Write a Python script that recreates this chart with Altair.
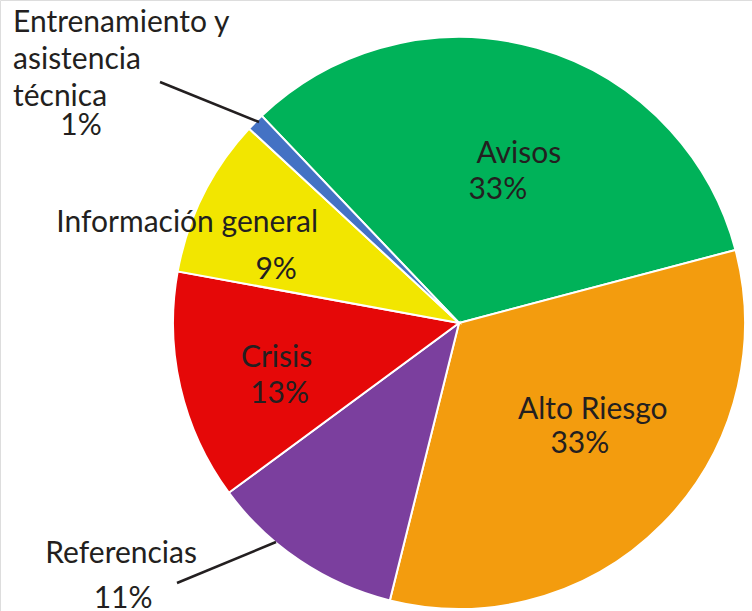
import math
import altair as alt
import pandas as pd

categories = ["Avisos", "Alto Riesgo", "Referencias", "Crisis",
              "Información general", "Entrenamiento y asistencia técnica"]
values = [33, 33, 11, 13, 9, 1]
pct_labels = ["33%", "33%", "11%", "13%", "9%", "1%"]
name_labels = ["Avisos", "Alto Riesgo", "Referencias", "Crisis",
               "Información general", "Entrenamiento y\nasistencia\ntécnica"]
colors = ["#00B259", "#F39C0E", "#7B3F9E", "#E50808", "#F2E600", "#4472C4"]

df = pd.DataFrame({
    "cat": categories,
    "value": values,
    "order": list(range(len(categories))),
    "pct": pct_labels,
    "name": name_labels,
})

CX, CY, R = 459, 323, 286
A0 = math.radians(-43.6)
FONT = "Lato"
FS = 30
TXT = "#231F20"

theta_scale = alt.Scale(domain=[0, 100], range=[A0, A0 + 2 * math.pi])

base = (
    alt.Chart(df)
    .transform_window(cum="sum(value)", sort=[alt.SortField("order")])
    .transform_calculate(start="datum.cum - datum.value",
                         mid="datum.cum - datum.value / 2")
)

arcs = base.mark_arc(outerRadius=R, stroke="white", strokeWidth=2).encode(
    theta=alt.Theta("start:Q", scale=theta_scale),
    theta2="cum:Q",
    color=alt.Color("cat:N", scale=alt.Scale(domain=categories, range=colors), legend=None),
    x=alt.value(CX),
    y=alt.value(CY),
)


def label(cat, field, radius, dx, dy, align="center"):
    return base.transform_filter(alt.datum.cat == cat).mark_text(
        radius=radius, dx=dx, dy=dy, align=align, baseline="alphabetic",
        font=FONT, fontSize=FS, color=TXT, lineBreak="\n", lineHeight=37,
    ).encode(
        theta=alt.Theta("mid:Q", scale=theta_scale),
        text=f"{field}:N",
        x=alt.value(CX),
        y=alt.value(CY),
    )


labels = [
    label("Avisos", "name", 150, 19, -16),
    label("Avisos", "pct", 150, -2, 20),
    label("Alto Riesgo", "name", 150, 27, -9),
    label("Alto Riesgo", "pct", 150, 14, 25),
    label("Crisis", "name", 180, -7, 4),
    label("Crisis", "pct", 180, -4, 40),
    label("Información general", "name", 200, -93, -1),
    label("Información general", "pct", 200, -4, 46),
    label("Referencias", "name", 300, -171, -9),
    label("Referencias", "pct", 300, -169, 36),
    label("Entrenamiento y asistencia técnica", "name", 330, -211, -59, align="left"),
    label("Entrenamiento y asistencia técnica", "pct", 330, -143, 44),
]

leader1 = alt.Chart(df.head(1)).mark_rule(color=TXT, strokeWidth=2.5).encode(
    x=alt.value(160), y=alt.value(82), x2=alt.value(259), y2=alt.value(122))
leader2 = alt.Chart(df.head(1)).mark_rule(color=TXT, strokeWidth=2.5).encode(
    x=alt.value(177), y=alt.value(583), x2=alt.value(276), y2=alt.value(542))

chart = alt.layer(arcs, *labels, leader1, leader2).properties(
    width=752, height=611, autosize=alt.AutoSizeParams(type="none"), padding=0,
).configure_view(stroke=None).configure(background="white")

chart.save("out.html", embed_options={"renderer": "svg", "actions": False})
